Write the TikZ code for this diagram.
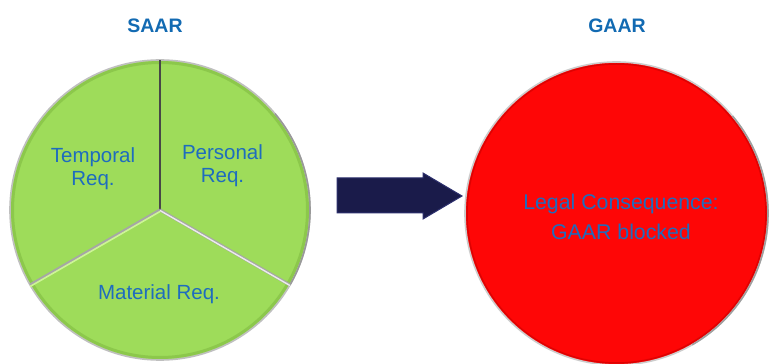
\documentclass[tikz,border=0pt]{standalone}
\usepackage{fontspec}
\setmainfont{Liberation Sans}
\definecolor{pieGreen}{RGB}{158,220,90}
\definecolor{pieRim}{RGB}{140,200,75}
\definecolor{pieHigh}{RGB}{205,245,150}
\definecolor{stopRed}{RGB}{254,6,6}
\definecolor{labelBlue}{RGB}{30,108,190}
\definecolor{titleBlue}{RGB}{18,106,178}
\definecolor{arrowNavy}{RGB}{26,27,74}
\definecolor{arrowEdge}{RGB}{45,48,110}
\tikzset{
  title/.style={font=\fontsize{19.5}{22}\selectfont\bfseries, text=titleBlue, inner sep=0pt},
  pielabel/.style={font=\fontsize{20.5}{22.5}\selectfont, text=labelBlue, align=center, inner sep=0pt},
  redlabel/.style={font=\fontsize{21.3}{30}\selectfont, text=labelBlue, align=center, inner sep=0pt},
}
\begin{document}
\begin{tikzpicture}[x=1pt,y=1pt]
\clip (0,0) rectangle (769,364);
\fill[white] (0,0) rectangle (769,364);

% titles
\node[title] (saar) at (155,338.5) {SAAR};
\node[title] (gaar) at (617,338.5) {GAAR};

% pie of the three requirements
\coordinate (pc) at (160,154);
\fill[pieGreen] (pc) circle[radius=150];
\draw[pieRim, line width=3] (pc) circle[radius=147.5];
\draw[gray!50, line width=1.6] (pc) circle[radius=150];
\draw[gray!80, line width=1.6] ([shift={(-30:150)}]pc) arc[start angle=-30, end angle=40, radius=150];
% dividers
\draw[black!72, line width=2] (pc) -- ++(90:150);
\draw[gray!70, line width=3] (pc) -- ++(210:150);
\draw[gray!70, line width=3] (pc) -- ++(330:150);
\draw[pieHigh, line width=1.6] ([yshift=-1.5pt]pc) -- ++(210:150);
\draw[white!85!gray, line width=1.4] ([yshift=-0.5pt]pc) -- ++(330:150);

\node[pielabel] (temporal) at (93,195.5) {Temporal\\Req.};
\node[pielabel] (personal) at (222.5,198.5) {Personal\\Req.};
\node[pielabel, anchor=base] (material) at (159,64) {Material Req.};

% block arrow
\draw[fill=arrowNavy, draw=arrowEdge, line width=1, line join=miter]
  (337,186) -- (423,186) -- (423,191) -- (462,168) -- (423,145) -- (423,151) -- (337,151) -- cycle;

% legal consequence circle
\coordinate (rc) at (616.5,150.5);
\fill[stopRed] (rc) circle[radius=151.5];
\draw[red!75!black, line width=1.5, opacity=0.5] (rc) circle[radius=149.5];
\draw[gray!40, line width=1.6] (rc) circle[radius=151.5];
\draw[gray!75, line width=1.6] ([shift={(-60:151.5)}]rc) arc[start angle=-60, end angle=40, radius=151.5];
\node[redlabel] (consequence) at (621,147.5) {Legal Consequence:\\GAAR blocked};
\end{tikzpicture}
\end{document}
